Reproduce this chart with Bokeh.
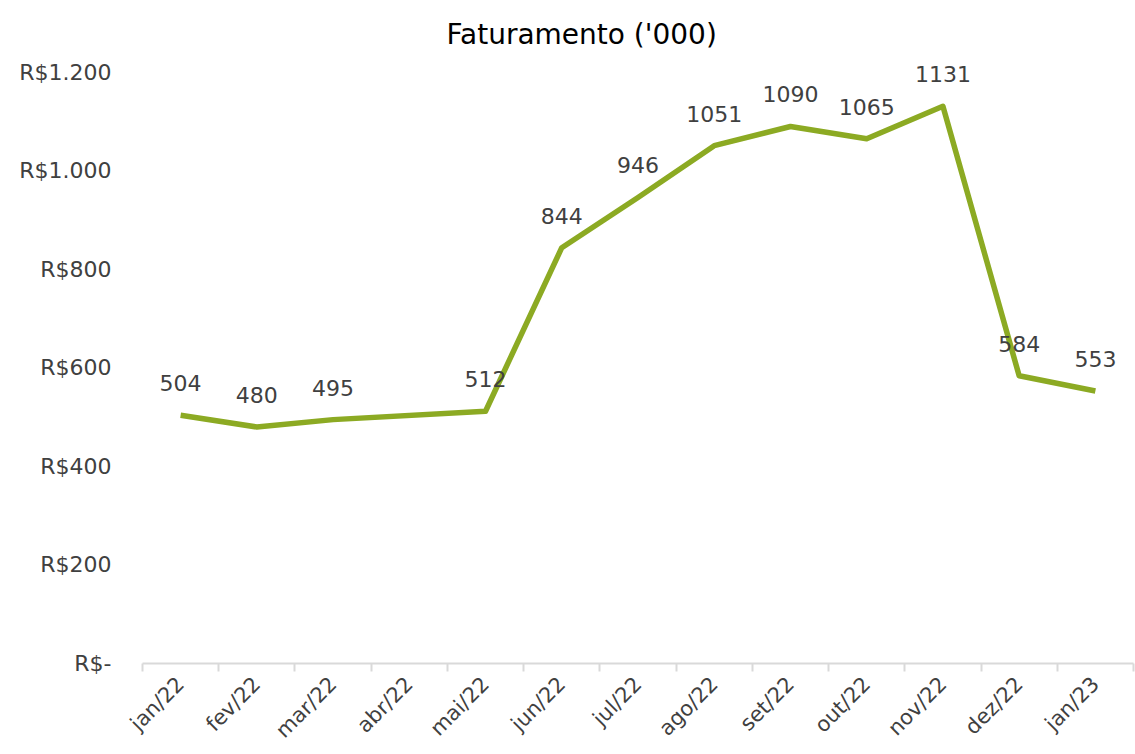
import math
from bokeh.plotting import figure
from bokeh.models import ColumnDataSource, Range1d, FixedTicker
from bokeh.core.properties import value
from bokeh.embed import file_html
from bokeh.resources import INLINE

# ---- data ----
months = ["jan/22", "fev/22", "mar/22", "abr/22", "mai/22", "jun/22", "jul/22",
          "ago/22", "set/22", "out/22", "nov/22", "dez/22", "jan/23"]
revenue = [504, 480, 495, None, 512, 844, 946, 1051, 1090, 1065, 1131, 584, 553]
y_ticks = [0, 200, 400, 600, 800, 1000, 1200]
y_tick_labels = ["R$-", "R$200", "R$400", "R$600", "R$800", "R$1.000", "R$1.200"]

FONT = "DejaVu Sans"
GREEN = "#8CAA23"
TXT = "#404040"

# category centres at i + 0.5, category boundaries at integers
centres = [i + 0.5 for i in range(len(months))]
bounds = list(range(len(months) + 1))
pts = [(c, v) for c, v in zip(centres, revenue) if v is not None]
src = ColumnDataSource(dict(x=[c for c, _ in pts], y=[v for _, v in pts],
                            lab=[str(v) for _, v in pts]))

p = figure(width=1135, height=754, output_backend="svg", toolbar_location=None,
           x_range=Range1d(0, len(months)), y_range=Range1d(0, 1230),
           title="Faturamento ('000)")
p.title.align = "left"
p.title.offset = 304
p.title.vertical_align = "top"
p.title.text_font = FONT
p.title.text_font_size = "28px"
p.title.text_font_style = "normal"
p.title.text_color = "#000000"
p.title.standoff = 10
p.outline_line_color = None
p.grid.visible = False
p.min_border_top = 57
p.min_border_right = 2
p.min_border_left = 142
p.min_border_bottom = 0

# y axis
ya = p.yaxis[0]
ya.ticker = FixedTicker(ticks=y_ticks)
ya.major_label_overrides = {t: l for t, l in zip(y_ticks, y_tick_labels)}
ya.axis_line_color = None
ya.major_tick_line_color = None
ya.minor_tick_line_color = None
ya.major_label_text_font = FONT
ya.major_label_text_font_size = "22px"
ya.major_label_text_color = TXT
ya.major_label_standoff = 25

# x axis: labels at category centres, tick marks at category boundaries
xa = p.xaxis[0]
xa.ticker = FixedTicker(ticks=centres, minor_ticks=bounds)
xa.major_label_overrides = {c: m for c, m in zip(centres, months)}
xa.axis_line_color = "#d9d9d9"
xa.axis_line_width = 2
xa.major_tick_line_color = None
xa.minor_tick_line_color = "#d9d9d9"
xa.minor_tick_line_width = 2
xa.minor_tick_in = 0
xa.minor_tick_out = 8
xa.major_tick_in = 0
xa.major_tick_out = 8
xa.major_label_orientation = math.pi / 4
xa.major_label_text_font = FONT
xa.major_label_text_font_size = "21px"
xa.major_label_text_color = TXT
xa.major_label_standoff = 9

p.line("x", "y", source=src, line_color=GREEN, line_width=5.5, line_join="round")
p.text("x", "y", text="lab", source=src, text_align="center", text_baseline="middle",
       y_offset=-32, text_font=value(FONT), text_font_size="22px", text_color=TXT)

open("out.html", "w").write(file_html(p, INLINE))
